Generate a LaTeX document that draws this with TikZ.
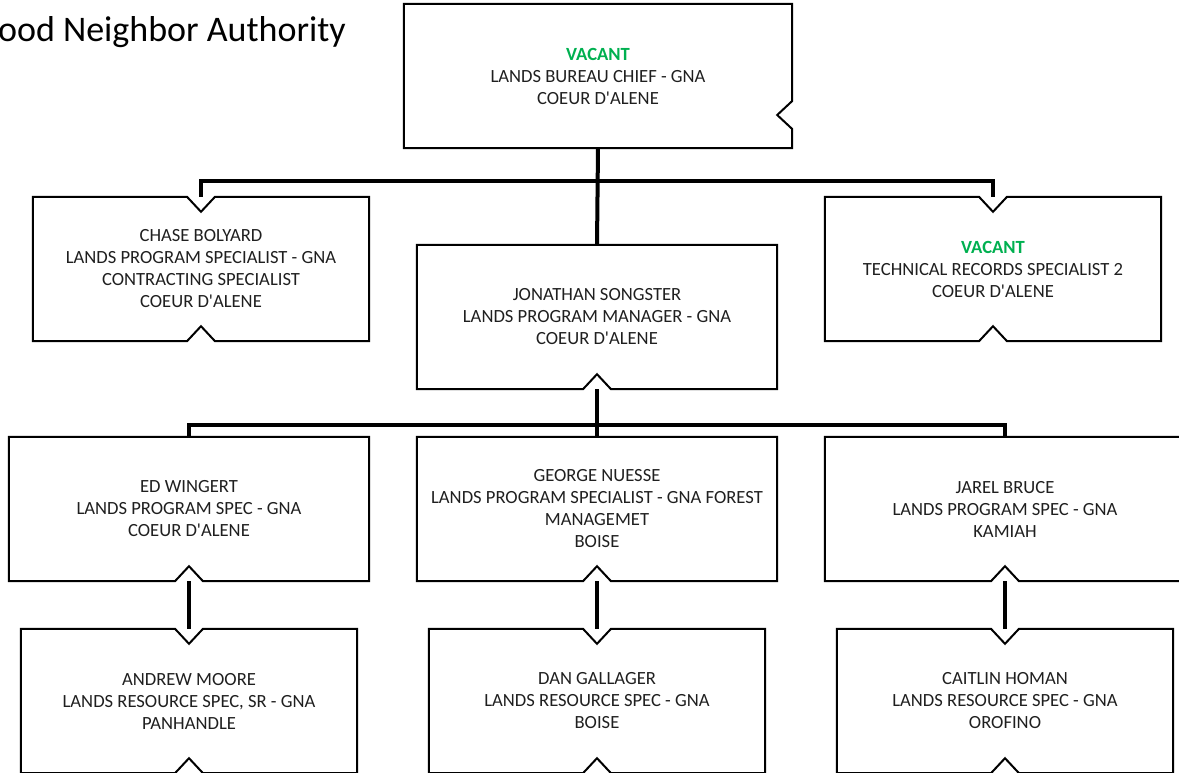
\documentclass[tikz,border=0pt]{standalone}
\usepackage{fontspec}
\setmainfont{Carlito}
\usetikzlibrary{calc}
\definecolor{vacantgreen}{HTML}{00B050}
\tikzset{
  orgbox/.style={draw=none, rectangle, inner sep=0pt, align=center,
    font=\fontsize{18.6}{22}\selectfont, text=black!88},
  boxline/.style={line width=2pt, line join=miter},
  link/.style={line width=4pt},
}
% outline of a box: name, top notch (1/0), bottom notch (1/0)
\newcommand\boxoutline[3]{%
  \draw[boxline] (#1.north west) -- ($(#1.north)+(-14,0)$) -- ($(#1.north)+(0,15*#2)$)
    -- ($(#1.north)+(14,0)$) -- (#1.north east) -- (#1.south east)
    -- ($(#1.south)+(14,0)$) -- ($(#1.south)+(0,-15*#3)$) -- ($(#1.south)+(-14,0)$)
    -- (#1.south west) -- cycle;%
}
\newcommand\vacant{{\color{vacantgreen}\bfseries VACANT}}
\newcommand\apos{\textquotesingle}
\begin{document}
\begin{tikzpicture}[x=1pt, y=-1pt]
  \useasboundingbox (0,0) rectangle (1179,773);
  \clip (0,0) rectangle (1179,773);

  % Title
  \node[anchor=base east, inner sep=0pt, font=\fontsize{36}{40}\selectfont] (title) at (346,42) {Good Neighbor Authority};

  % Level 0
  \node[orgbox, minimum width=388pt, minimum height=144pt] (chief) at (598,76)
    {\vacant\\LANDS BUREAU CHIEF - GNA\\COEUR D\apos ALENE};

  % Level 1
  \node[orgbox, minimum width=336pt, minimum height=144pt] (chase) at (201,269)
    {CHASE BOLYARD\\LANDS PROGRAM SPECIALIST - GNA\\CONTRACTING SPECIALIST\\COEUR D\apos ALENE};
  \node[orgbox, minimum width=360pt, minimum height=144pt] (jonathan) at (597,317)
    {JONATHAN SONGSTER\\LANDS PROGRAM MANAGER - GNA\\COEUR D\apos ALENE};
  \node[orgbox, minimum width=336pt, minimum height=144pt] (techrec) at (993,269)
    {\vacant\\TECHNICAL RECORDS SPECIALIST 2\\COEUR D\apos ALENE};

  % Level 2
  \node[orgbox, minimum width=360pt, minimum height=144pt] (ed) at (189,509)
    {ED WINGERT\\LANDS PROGRAM SPEC - GNA\\COEUR D\apos ALENE};
  \node[orgbox, minimum width=360pt, minimum height=144pt] (george) at (597,509)
    {GEORGE NUESSE\\LANDS PROGRAM SPECIALIST - GNA FOREST\\MANAGEMET\\BOISE};
  \node[orgbox, minimum width=360pt, minimum height=144pt] (jarel) at (1005,509)
    {JAREL BRUCE\\LANDS PROGRAM SPEC - GNA\\KAMIAH};

  % Level 3
  \node[orgbox, minimum width=336pt, minimum height=144pt] (andrew) at (189,701)
    {ANDREW MOORE\\LANDS RESOURCE SPEC, SR - GNA\\PANHANDLE};
  \node[orgbox, minimum width=336pt, minimum height=144pt] (dan) at (597,701)
    {DAN GALLAGER\\LANDS RESOURCE SPEC - GNA\\BOISE};
  \node[orgbox, minimum width=336pt, minimum height=144pt] (caitlin) at (1005,701)
    {CAITLIN HOMAN\\LANDS RESOURCE SPEC - GNA\\OROFINO};

  % Box outlines (chief has its notch on the right side)
  \draw[boxline] (chief.north west) -- (chief.north east) -- ($(chief.east)+(0,25)$)
    -- ($(chief.east)+(-15,39)$) -- ($(chief.east)+(0,53)$) -- (chief.south east)
    -- (chief.south west) -- cycle;
  \boxoutline{chase}{1}{1}
  \boxoutline{jonathan}{0}{1}
  \boxoutline{techrec}{1}{1}
  \boxoutline{ed}{0}{1}
  \boxoutline{george}{0}{1}
  \boxoutline{jarel}{0}{1}
  \boxoutline{andrew}{1}{1}
  \boxoutline{dan}{1}{1}
  \boxoutline{caitlin}{1}{1}

  % Connectors
  \draw[link] (chief.south) -- (jonathan.north);
  \draw[link] (chase.north) -- ++(0,-16) -| (techrec.north);
  \draw[link] (jonathan.south) -- (george.north);
  \draw[link] (ed.north) -- ++(0,-12) -| (jarel.north);
  \draw[link] (ed.south) -- (andrew.north);
  \draw[link] (george.south) -- (dan.north);
  \draw[link] (jarel.south) -- (caitlin.north);
\end{tikzpicture}
\end{document}
